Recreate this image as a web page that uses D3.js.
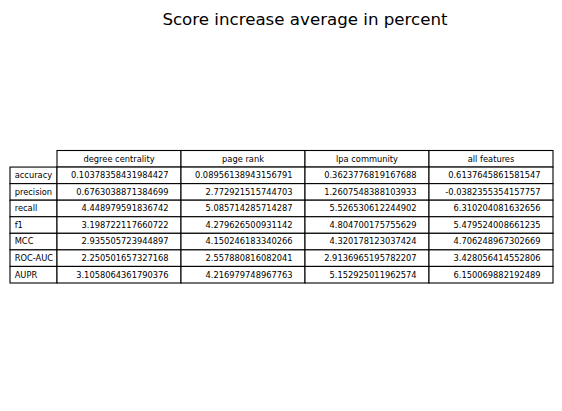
<!DOCTYPE html>
<html><head><meta charset="utf-8">
<script src="https://cdn.jsdelivr.net/npm/d3@7"></script>
<style>body{margin:0;background:#fff}svg{display:block}text{font-family:"DejaVu Sans",sans-serif}</style>
</head><body>
<svg id="c" width="562" height="411"></svg>
<script>
const title = "Score increase average in percent";
const columns = ["degree centrality", "page rank", "lpa community", "all features"];
const rows = ["accuracy", "precision", "recall", "f1", "MCC", "ROC-AUC", "AUPR"];
const degreeCentrality = ["0.10378358431984427","0.6763038871384699","4.448979591836742","3.198722117660722","2.935505723944897","2.250501657327168","3.1058064361790376"];
const pageRank = ["0.08956138943156791","2.772921515744703","5.085714285714287","4.279626500931142","4.150246183340266","2.557880816082041","4.216979748967763"];
const lpaCommunity = ["0.3623776819167688","1.2607548388103933","5.526530612244902","4.804700175755629","4.320178123037424","2.9136965195782207","5.152925011962574"];
const allFeatures = ["0.6137645861581547","-0.0382355354157757","6.310204081632656","5.479524008661235","4.706248967302669","3.428056414552806","6.150069882192489"];
const series = [degreeCentrality, pageRank, lpaCommunity, allFeatures];

const svg = d3.select("#c");
const fs = 8.3;
const x = d3.scaleBand().domain(columns).range([57, 553]).padding(0);
const y = d3.scaleBand().domain(["__header__"].concat(rows)).range([150.5, 283]).padding(0);
const rl = {x0: 10, x1: 57};
const pad = 0.1;

svg.append("text").attr("x", 305).attr("y", 24.5).attr("text-anchor", "middle")
  .attr("font-size", 16.67).attr("fill", "#000").text(title);

const g = svg.append("g");
const cellStyle = s => s.attr("fill", "#fff").attr("stroke", "#000").attr("stroke-width", 1.1);

// header cells
columns.forEach(c => {
  g.append("rect").attr("x", x(c)).attr("y", y("__header__")).attr("width", x.bandwidth()).attr("height", y.bandwidth()).call(cellStyle);
  g.append("text").attr("x", x(c) + x.bandwidth()/2).attr("y", y("__header__") + y.bandwidth()/2)
    .attr("dy", "0.35em").attr("text-anchor", "middle").attr("font-size", fs).text(c);
});
// row labels
rows.forEach(r => {
  g.append("rect").attr("x", rl.x0).attr("y", y(r)).attr("width", rl.x1 - rl.x0).attr("height", y.bandwidth()).call(cellStyle);
  g.append("text").attr("x", rl.x0 + (rl.x1 - rl.x0)*pad).attr("y", y(r) + y.bandwidth()/2)
    .attr("dy", "0.35em").attr("text-anchor", "start").attr("font-size", fs).text(r);
});
// body cells
columns.forEach((c, ci) => {
  rows.forEach((r, ri) => {
    g.append("rect").attr("x", x(c)).attr("y", y(r)).attr("width", x.bandwidth()).attr("height", y.bandwidth()).call(cellStyle);
    g.append("text").attr("x", x(c) + x.bandwidth()*(1-pad)).attr("y", y(r) + y.bandwidth()/2)
      .attr("dy", "0.35em").attr("text-anchor", "end").attr("font-size", fs).text(series[ci][ri]);
  });
});
</script>
</body></html>
